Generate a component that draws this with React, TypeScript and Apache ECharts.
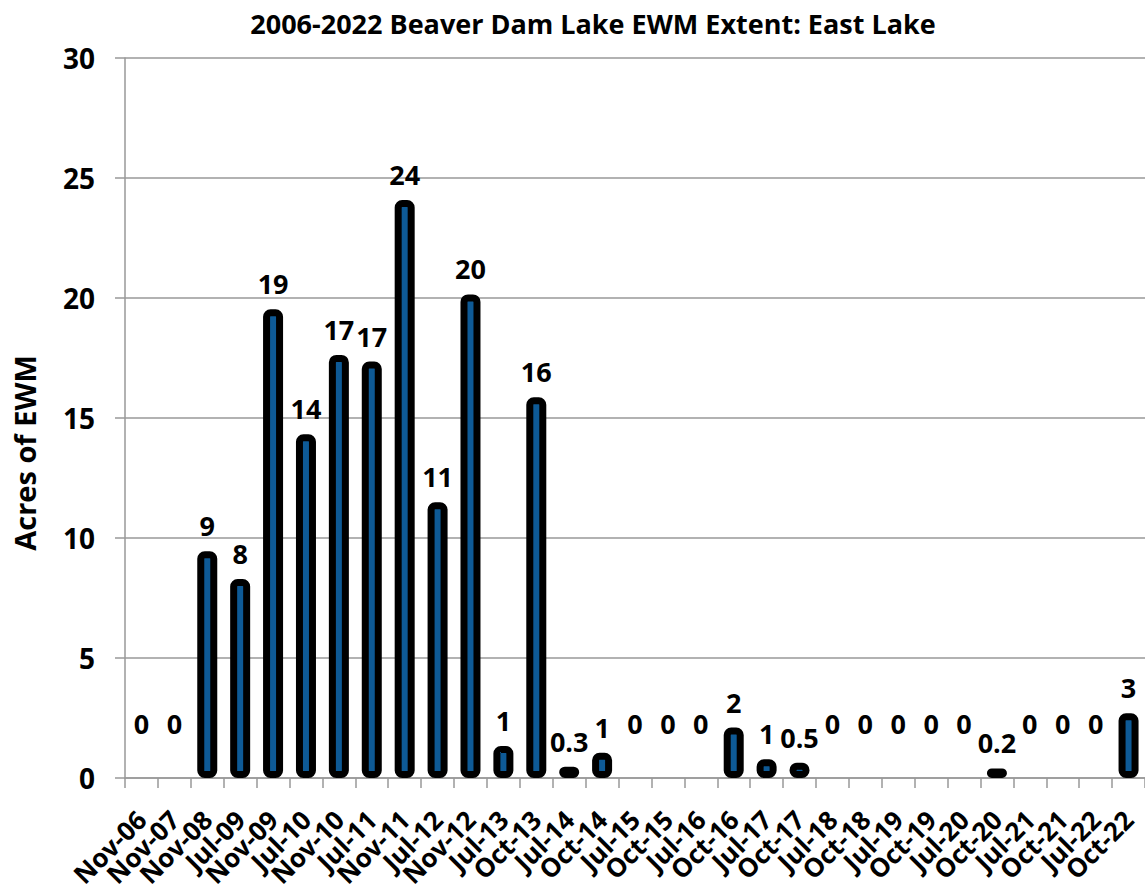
import React, { useEffect, useRef } from "react";
import * as echarts from "echarts";

const categories = [
  "Nov-06", "Nov-07", "Nov-08", "Jul-09", "Nov-09", "Jul-10", "Nov-10", "Jul-11",
  "Nov-11", "Jul-12", "Nov-12", "Jul-13", "Oct-13", "Jul-14", "Oct-14", "Jul-15",
  "Oct-15", "Jul-16", "Oct-16", "Jul-17", "Oct-17", "Jul-18", "Oct-18", "Jul-19",
  "Oct-19", "Jul-20", "Oct-20", "Jul-21", "Oct-21", "Jul-22", "Oct-22",
];

const acres = [
  0, 0, 9.45, 8.29, 19.53, 14.32, 17.63, 17.35,
  24.08, 11.49, 20.15, 1.33, 15.86, 0.47, 1.05, 0,
  0, 0, 2.1, 0.78, 0.64, 0, 0, 0,
  0, 0, 0.4, 0, 0, 0, 2.7,
];

const valueLabels = [
  "0", "0", "9", "8", "19", "14", "17", "17",
  "24", "11", "20", "1", "16", "0.3", "1", "0",
  "0", "0", "2", "1", "0.5", "0", "0", "0",
  "0", "0", "0.2", "0", "0", "0", "3",
];

const yTicks = [0, 5, 10, 15, 20, 25, 30];

const FONT = "'Open Sans', 'DejaVu Sans', sans-serif";

export default function App() {
  const ref = useRef<HTMLDivElement>(null);

  useEffect(() => {
    if (!ref.current) return;
    const chart = echarts.init(ref.current, undefined, { renderer: "svg" });
    const option = {
      animation: false,
      backgroundColor: "#ffffff",
      title: {
        text: "2006-2022 Beaver Dam Lake EWM Extent: East Lake",
        left: 588,
        top: 5,
        textAlign: "center",
        textStyle: { fontFamily: FONT, fontWeight: "bold", fontSize: 27, color: "#000" },
      },
      graphic: [
        {
          type: "text",
          x: 24,
          y: 453,
          rotation: Math.PI / 2,
          style: {
            text: "Acres of EWM",
            fontFamily: FONT,
            fontWeight: "bold",
            fontSize: 29,
            fill: "#000",
            textAlign: "center",
            textVerticalAlign: "middle",
          },
        },
      ],
      grid: {
        left: 125,
        right: 0,
        top: 58,
        bottom: 113,
        containLabel: false,
        outerBoundsMode: "none",
      },
      xAxis: {
        type: "category",
        data: categories,
        axisLine: { show: true, lineStyle: { color: "#999", width: 1.5 } },
        axisTick: { show: true, length: 10, interval: 0, lineStyle: { color: "#999", width: 1.5 } },
        axisLabel: {
          interval: 0,
          rotate: 45,
          margin: 37,
          fontFamily: FONT,
          fontWeight: "bold",
          fontSize: 26,
          color: "#000",
        },
      },
      yAxis: {
        type: "value",
        min: yTicks[0],
        max: yTicks[yTicks.length - 1],
        interval: 5,
        axisLine: { show: true, lineStyle: { color: "#999", width: 1.5 } },
        axisTick: { show: true, length: 10, lineStyle: { color: "#999", width: 1.5 } },
        splitLine: { show: true, lineStyle: { color: "#999", width: 1.5 } },
        axisLabel: {
          margin: 30,
          fontFamily: FONT,
          fontWeight: "bold",
          fontSize: 28,
          color: "#000",
        },
      },
      series: [
        {
          type: "bar",
          barWidth: 20,
          z: 3,
          data: acres.map((v, i) => ({
            value: v,
            itemStyle:
              v === 0
                ? { borderWidth: 0, color: "transparent" }
                : { color: "#0E5A96", borderColor: "#000", borderWidth: 7, borderRadius: 4 },
            label:
              v === 0
                ? { formatter: valueLabels[i], offset: [0, -29] }
                : { formatter: valueLabels[i] },
          })),
          label: {
            show: true,
            position: "top",
            distance: 12,
            fontFamily: FONT,
            fontWeight: "bold",
            fontSize: 27,
            color: "#000",
          },
        },
      ],
    };
    chart.setOption(option as any);
    return () => chart.dispose();
  }, []);

  return (
    <div
      ref={ref}
      style={{ position: "fixed", left: 0, top: 0, width: 1145, height: 891, background: "#fff" }}
    />
  );
}
